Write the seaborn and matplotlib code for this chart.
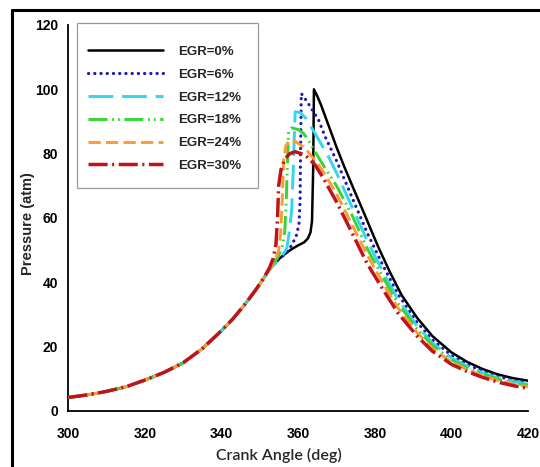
import matplotlib
matplotlib.use("Agg")
import matplotlib.pyplot as plt
import seaborn as sns
import pandas as pd
from matplotlib.lines import Line2D
from matplotlib.patches import Rectangle

# ---------------- data ----------------
labels = ["EGR=0%", "EGR=6%", "EGR=12%", "EGR=18%", "EGR=24%", "EGR=30%"]

# common compression part
ca_comp = [300, 305, 310, 315, 320, 325, 330, 335, 340, 343, 346, 349, 351]
p_comp = [4.2, 5.0, 6.1, 7.5, 9.6, 12.0, 15.0, 19.4, 25.0, 28.7, 33.0, 37.8, 41.3]

ca_egr0 = [352.5, 354, 356, 358, 360, 361.5, 362.5, 363.2, 363.6, 363.9, 364.1,
           365, 366, 368, 370, 372, 374.4, 377, 379, 381, 384, 387, 391, 395,
           400, 404, 408, 412, 416, 420]
p_egr0 = [44.0, 46.2, 48.3, 50.1, 51.5, 52.4, 53.6, 55.5, 59.0, 75.0, 100.0,
          97.8, 95.0, 88.5, 82.0, 76.0, 69.2, 62.0, 56.3, 50.7, 43.0, 36.0, 29.0, 23.3,
          18.2, 15.3, 13.1, 11.4, 10.2, 9.4]

ca_egr6 = [352.5, 354, 356, 357.5, 358.5, 359.5, 360.2, 360.5, 360.6, 360.8,
           362.3, 365.3, 367, 370, 374, 378, 382, 386, 391, 395, 400, 404, 408,
           412, 416, 420]
p_egr6 = [44.0, 46.2, 48.2, 50.0, 52.0, 54.5, 58.0, 66.0, 80.0, 98.7,
          96.2, 90.5, 85.3, 77.8, 66.5, 55.4, 45.5, 36.4, 27.6, 22.1, 17.3, 14.5, 12.5,
          10.8, 9.6, 8.8]

ca_egr12 = [352.5, 354.5, 356, 357, 357.6, 358.3, 358.7, 359.2, 360.5, 362,
            364.4, 368, 370, 374, 378, 382, 386, 391, 395, 400, 404, 408, 412,
            416, 420]
p_egr12 = [44.0, 46.4, 48.6, 50.5, 55.0, 62.5, 75.0, 93.0, 92.8, 91.0,
           86.3, 78.8, 74.0, 63.5, 53.0, 43.5, 34.8, 26.4, 21.2, 16.5, 14.0, 11.9, 10.3,
           9.2, 8.3]

ca_egr18 = [352.5, 353.5, 354.8, 355.8, 356.5, 356.9, 357.2, 357.5, 358.3, 360,
            361.4, 363, 364.4, 367, 370, 374, 378, 382, 386, 391, 395, 400, 404,
            408, 412, 416, 420]
p_egr18 = [44.0, 45.6, 48.0, 51.0, 56.0, 66.0, 78.0, 87.0, 88.0, 87.5,
           86.3, 83.5, 80.6, 75.5, 70.0, 61.0, 50.5, 41.8, 33.5, 25.5, 20.4, 15.9, 13.4,
           11.5, 9.9, 8.8, 7.9]

ca_egr24 = [352.5, 353.8, 354.8, 355.4, 355.8, 356.2, 356.8, 357.8, 359.5, 361.8,
            365.3, 367, 370, 374, 378, 382, 386, 391, 395, 400, 404, 408, 412,
            416, 420]
p_egr24 = [44.0, 46.5, 49.5, 55.0, 65.0, 78.0, 82.5, 84.2, 83.6, 81.7,
           76.5, 73.5, 67.5, 58.0, 48.5, 40.0, 32.1, 24.4, 19.5, 15.2, 12.9, 11.0, 9.5,
           8.4, 7.5]

ca_egr30 = [352.5, 353.5, 354.2, 354.6, 354.9, 355.5, 356.5, 357.8, 359.2, 361.8,
            364.4, 366.5, 370, 374, 378, 382, 386, 391, 395, 400, 404, 408, 412,
            416, 420]
p_egr30 = [44.5, 47.5, 52.0, 60.0, 70.0, 75.0, 78.3, 80.0, 80.6, 79.6,
           76.5, 72.5, 65.0, 55.5, 45.8, 38.0, 30.5, 23.3, 18.6, 14.5, 12.3, 10.5, 9.0,
           7.9, 7.0]

series_ca = [ca_egr0, ca_egr6, ca_egr12, ca_egr18, ca_egr24, ca_egr30]
series_p = [p_egr0, p_egr6, p_egr12, p_egr18, p_egr24, p_egr30]

xticks = [300, 320, 340, 360, 380, 400, 420]
yticks = [0, 20, 40, 60, 80, 100, 120]

# ---------------- styles ----------------
colors = ["#000000", "#1A1AB8", "#33D6EE", "#33D633", "#FF9A33", "#C0141C"]
widths = [1.8, 2.3, 2.1, 2.1, 2.1, 2.5]
styles = ["-",
          (0, (0.05, 1.9)),
          (0, (8.5, 3.0)),
          (0, (6.5, 1.6, 0.6, 1.4, 0.6, 1.6)),
          (0, (4.2, 1.8)),
          (0, (5.5, 1.3, 0.6, 1.3))]
caps = ["butt", "round", "butt", "butt", "butt", "butt"]

sns.set_style("white")
plt.rcParams["font.family"] = ["Liberation Sans", "DejaVu Sans"]

fig = plt.figure(figsize=(5.4, 4.67), dpi=100)
ax = fig.add_axes([0.1265, 0.12, 0.978 - 0.1265, 0.9465 - 0.12])

rows = []
for lab, ca, pp in zip(labels, series_ca, series_p):
    for c, p in zip(ca_comp + ca, p_comp + pp):
        rows.append((lab, c, p))
df = pd.DataFrame(rows, columns=["series", "ca", "p"])

for i, lab in enumerate(labels):
    d = df[df["series"] == lab]
    sns.lineplot(data=d, x="ca", y="p", ax=ax, color=colors[i], lw=widths[i],
                 linestyle=styles[i], dash_capstyle=caps[i], label=lab,
                 sort=False, estimator=None, zorder=3 + i)

ax.set_xlim(300, 420)
ax.set_ylim(0, 120)
ax.set_xticks(xticks)
ax.set_yticks(yticks)
ax.tick_params(axis="both", direction="inout", length=7, width=1.2,
               colors="black", labelsize=10, pad=4)
for t in ax.get_xticklabels() + ax.get_yticklabels():
    t.set_fontweight("bold")
ax.xaxis.set_tick_params(pad=8)

for s in ["top", "right"]:
    ax.spines[s].set_visible(False)
for s in ["left", "bottom"]:
    ax.spines[s].set_color("black")
    ax.spines[s].set_linewidth(1.3)

ax.set_xlabel("Crank Angle (deg)", fontsize=11.5, family=["Lato", "DejaVu Sans"],
              fontweight="semibold")
ax.xaxis.set_label_coords(0.459, -0.095)
ax.set_ylabel("Pressure (atm)", fontsize=10.5, fontweight="bold")
ax.yaxis.set_label_coords(-0.073, 0.485)

# legend frame drawn as a rectangle in axes coordinates
ax.add_patch(Rectangle((0.019, 0.5777), 0.3937, 0.4275, transform=ax.transAxes,
                       facecolor="white", edgecolor="#999999", lw=0.9,
                       clip_on=False, zorder=20))
leg = ax.legend(loc="upper left", bbox_to_anchor=(0.043, 0.946), frameon=False,
                prop={"weight": "bold", "size": 9.5}, handlelength=5.7,
                handletextpad=1.15, labelspacing=0.8, borderpad=0,
                borderaxespad=0)
leg.set_zorder(21)

# outer frame lines (left and top visible in reference)
fig.add_artist(Line2D([12 / 540, 12 / 540], [0, 1 - 10 / 467], color="black",
                      lw=2.2, transform=fig.transFigure))
fig.add_artist(Line2D([12 / 540, 1], [1 - 10 / 467, 1 - 10 / 467], color="black",
                      lw=2.2, transform=fig.transFigure))

fig.savefig("out.png", dpi=100)
